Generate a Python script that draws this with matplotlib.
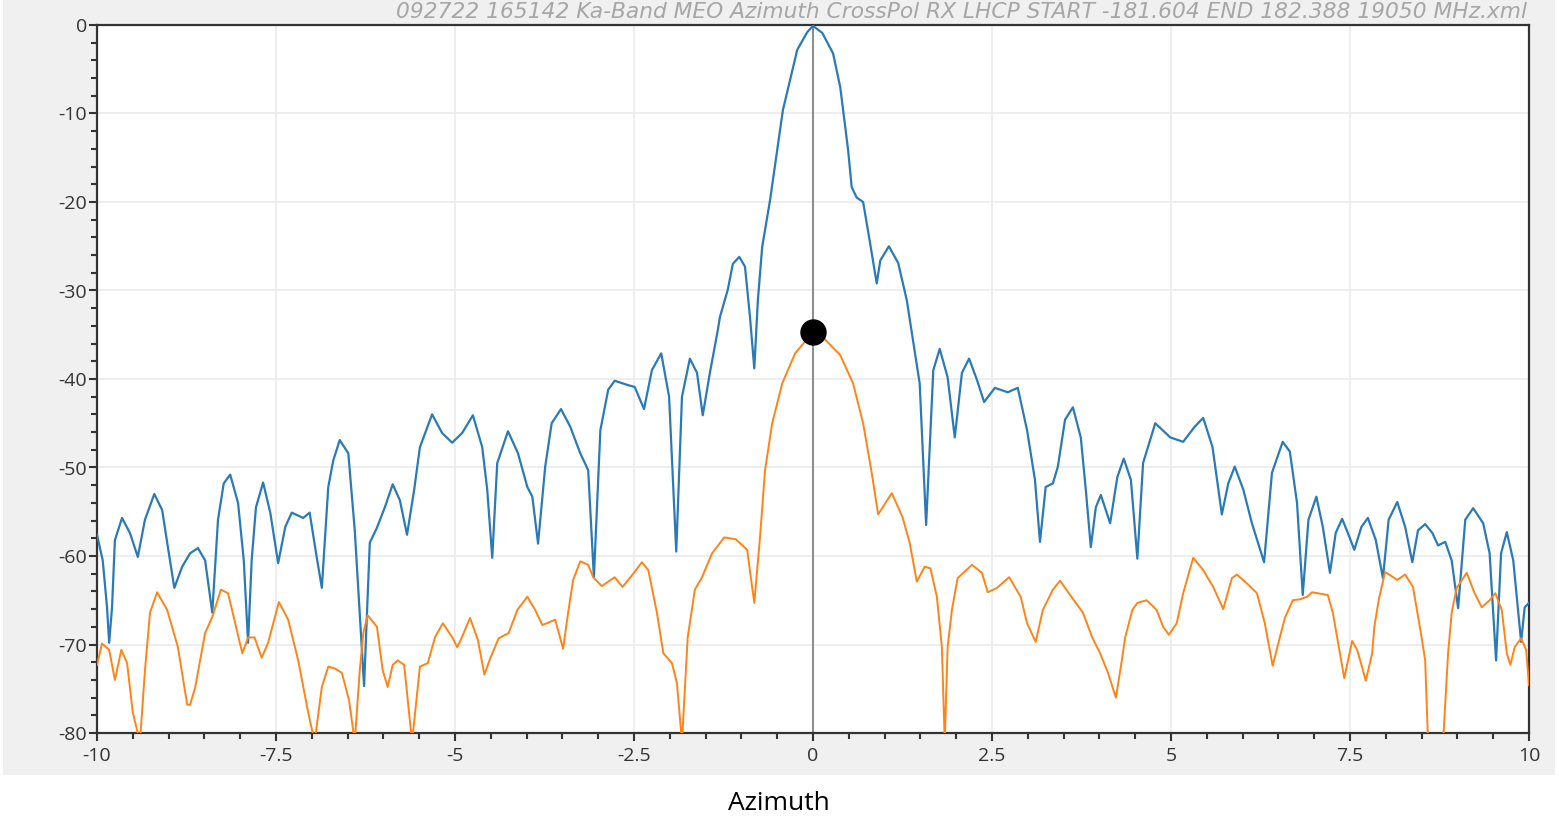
import matplotlib
matplotlib.use("Agg")
import matplotlib.pyplot as plt
from matplotlib.patches import Rectangle
from matplotlib.ticker import MultipleLocator

plt.rcParams["axes.unicode_minus"] = False
plt.rcParams["font.family"] = ["Open Sans", "DejaVu Sans"]

title_text = "092722 165142 Ka-Band MEO Azimuth CrossPol RX LHCP START -181.604 END 182.388 19050 MHz.xml"
x_label = "Azimuth"

# Co-pol pattern (dB) vs azimuth (deg)
copol_az = [
    -10.00, -9.92, -9.86, -9.83, -9.79, -9.75, -9.65, -9.54, -9.43, -9.33,
    -9.20, -9.09, -9.01, -8.92, -8.81, -8.70, -8.59, -8.49, -8.39, -8.31,
    -8.23, -8.14, -8.03, -7.95, -7.89, -7.84, -7.78, -7.68, -7.58, -7.47,
    -7.37, -7.28, -7.12, -7.03, -6.94, -6.86, -6.77, -6.70, -6.61, -6.49,
    -6.40, -6.27, -6.19, -6.09, -5.98, -5.87, -5.77, -5.67, -5.57, -5.49,
    -5.32, -5.18, -5.04, -4.90, -4.75, -4.62, -4.55, -4.48, -4.41, -4.26,
    -4.12, -3.99, -3.92, -3.84, -3.74, -3.65, -3.52, -3.39, -3.25, -3.14,
    -3.06, -2.97, -2.86, -2.77, -2.58, -2.49, -2.36, -2.25, -2.12, -2.01,
    -1.91, -1.83, -1.72, -1.62, -1.54, -1.44, -1.33, -1.30, -1.19, -1.12,
    -1.03, -0.95, -0.88,
    -0.82, -0.77, -0.71, -0.60, -0.50, -0.42, -0.22, -0.08, 0.00, 0.13,
    0.28, 0.38, 0.42, 0.49, 0.54, 0.61,
    0.70, 0.79, 0.89, 0.94, 1.06, 1.19, 1.31, 1.49, 1.58, 1.68, 1.77,
    1.88, 1.98, 2.08, 2.18, 2.29, 2.39, 2.54, 2.72, 2.86, 2.99,
    3.10, 3.17, 3.25, 3.35, 3.42, 3.52, 3.63, 3.74, 3.81, 3.88,
    3.95, 4.02, 4.15, 4.25, 4.34, 4.44, 4.53, 4.61, 4.78, 4.99,
    5.17, 5.33, 5.45, 5.58, 5.71, 5.80, 5.89, 6.01, 6.13, 6.30,
    6.41, 6.56, 6.66, 6.76, 6.84, 6.92, 7.03, 7.12, 7.22, 7.30,
    7.39, 7.47, 7.56, 7.66, 7.75, 7.86, 7.96, 8.04, 8.16, 8.27,
    8.37, 8.45, 8.55, 8.65, 8.73, 8.83, 8.92, 9.01, 9.11, 9.22,
    9.36, 9.45, 9.54, 9.61, 9.69, 9.78, 9.89, 9.94, 10.00,
]
copol_db = [
    -57.6, -60.5, -65.8, -69.8, -65.8, -58.2, -55.7, -57.4, -60.1, -55.9,
    -53.0, -54.8, -59.0, -63.6, -61.2, -59.7, -59.1, -60.5, -66.4, -55.9,
    -51.8, -50.8, -54.0, -60.5, -69.8, -60.5, -54.5, -51.7, -55.1, -60.8,
    -56.7, -55.1, -55.7, -55.1, -59.7, -63.6, -52.2, -49.2, -46.9, -48.4,
    -57.1, -74.7, -58.5, -56.8, -54.5, -51.9, -53.7, -57.6, -52.5, -47.7,
    -44.0, -46.1, -47.2, -46.1, -44.1, -47.7, -52.5, -60.2, -49.5, -45.9,
    -48.4, -52.2, -53.3, -58.6, -49.9, -45.0, -43.4, -45.4, -48.4, -50.3,
    -62.4, -45.8, -41.2, -40.2, -40.7, -40.9, -43.4, -39.0, -37.1, -42.0,
    -59.5, -42.0, -37.7, -39.3, -44.1, -39.3, -34.5, -33.0, -29.9, -27.0,
    -26.2, -27.3, -33.0,
    -38.8, -31.1, -25.1, -19.8, -14.1, -9.6, -2.8, -0.8, -0.1, -0.9,
    -3.2, -7.0, -9.6, -14.1, -18.3, -19.5,
    -20.0, -24.3, -29.2, -26.6, -25.0, -26.9, -31.1, -40.5, -56.5, -39.0, -36.6,
    -39.8, -46.6, -39.3, -37.7, -40.1, -42.6, -41.0, -41.5, -41.0, -45.8,
    -51.4, -58.4, -52.2, -51.8, -49.9, -44.6, -43.2, -46.6, -52.5, -59.0,
    -54.5, -53.1, -56.3, -51.1, -49.0, -51.4, -60.3, -49.5, -45.0, -46.6,
    -47.1, -45.4, -44.4, -47.7, -55.3, -51.8, -49.9, -52.5, -56.3, -60.7,
    -50.6, -47.1, -48.2, -54.0, -64.4, -55.9, -53.3, -56.7, -61.9, -57.4,
    -55.8, -57.4, -59.3, -56.7, -55.7, -58.2, -62.5, -55.9, -53.9, -56.7,
    -60.7, -57.1, -56.4, -57.4, -58.8, -58.4, -60.5, -65.9, -55.9, -54.6,
    -56.3, -59.7, -71.8, -59.7, -57.3, -60.5, -69.7, -65.8, -65.3,
]

# Cross-pol pattern (dB) vs azimuth (deg)
xpol_az = [
    -10.00, -9.93, -9.83, -9.75, -9.66, -9.58, -9.50, -9.40, -9.33, -9.26,
    -9.16, -9.02, -8.87, -8.74, -8.70, -8.63, -8.49, -8.39, -8.27, -8.17,
    -7.97, -7.89, -7.80, -7.70, -7.61, -7.46, -7.33, -7.19, -7.05, -6.96,
    -6.86, -6.77, -6.68, -6.58, -6.48, -6.40, -6.33, -6.28, -6.22, -6.09,
    -6.01, -5.94, -5.87, -5.80, -5.71, -5.60, -5.49, -5.38, -5.28, -5.17,
    -5.03, -4.97, -4.92, -4.79, -4.68, -4.59, -4.50, -4.39, -4.25, -4.13,
    -3.99, -3.88, -3.78, -3.60, -3.49, -3.42, -3.35, -3.25, -3.14, -3.07,
    -2.95, -2.77, -2.66, -2.52, -2.39, -2.30, -2.18, -2.09, -1.97, -1.90,
    -1.83, -1.75, -1.65, -1.55, -1.41, -1.24, -1.08, -0.92, -0.82, -0.74,
    -0.67, -0.57, -0.43, -0.25, 0.00, 0.14, 0.38, 0.56, 0.70, 0.82,
    0.91, 1.10, 1.25, 1.35, 1.45, 1.56, 1.64, 1.73, 1.80, 1.84,
    1.88, 1.94, 2.02, 2.22, 2.36, 2.44, 2.57, 2.74, 2.90, 2.99,
    3.11, 3.21, 3.35, 3.45, 3.59, 3.77, 3.90, 4.01, 4.12, 4.23,
    4.30, 4.36, 4.46, 4.53, 4.66, 4.80, 4.89, 4.97, 5.08, 5.17,
    5.31, 5.45, 5.59, 5.73, 5.85, 5.92, 6.06, 6.20, 6.31, 6.42,
    6.51, 6.59, 6.70, 6.80, 6.90, 6.97, 7.19, 7.26, 7.36, 7.42,
    7.53, 7.60, 7.65, 7.72, 7.81, 7.84, 7.90, 7.99, 8.16, 8.27,
    8.38, 8.50, 8.55, 8.59, 8.80, 8.87, 8.92, 8.99, 9.13, 9.24,
    9.34, 9.45, 9.53, 9.62, 9.69, 9.74, 9.80, 9.89, 9.96, 9.99,
    10.00,
]
xpol_db = [
    -72.3, -69.9, -70.6, -74.0, -70.6, -72.1, -77.7, -81.0, -72.9, -66.4,
    -64.1, -66.1, -70.3, -76.8, -76.8, -74.9, -68.7, -66.9, -63.8, -64.2,
    -71.0, -69.2, -69.2, -71.5, -69.8, -65.2, -67.2, -71.8, -77.7, -81.0,
    -74.8, -72.5, -72.7, -73.2, -76.3, -81.0, -72.9, -68.7, -66.7, -68.0,
    -72.9, -74.8, -72.3, -71.8, -72.3, -81.0, -72.5, -72.1, -69.2, -67.6,
    -69.3, -70.3, -69.5, -67.0, -69.5, -73.4, -71.4, -69.3, -68.7, -66.1,
    -64.6, -66.1, -67.8, -67.2, -70.5, -66.4, -62.7, -60.6, -61.0, -62.4,
    -63.4, -62.4, -63.5, -62.1, -60.7, -61.6, -66.4, -71.0, -72.1, -74.4,
    -81.0, -69.2, -63.8, -62.4, -59.7, -57.9, -58.1, -59.3, -65.3, -57.9,
    -50.3, -45.0, -40.5, -37.1, -34.7, -35.3, -37.3, -40.5, -45.0, -50.6,
    -55.3, -52.9, -55.6, -58.5, -62.9, -61.2, -61.4, -64.6, -70.3, -81.0,
    -70.3, -66.1, -62.5, -61.0, -61.9, -64.1, -63.6, -62.4, -64.6, -67.6,
    -69.7, -66.1, -63.8, -62.8, -64.4, -66.4, -69.2, -71.0, -73.2, -76.0,
    -72.5, -69.2, -66.1, -65.3, -65.0, -66.1, -68.0, -68.9, -67.6, -64.2,
    -60.2, -61.6, -63.5, -66.0, -62.5, -62.1, -63.1, -64.2, -67.6, -72.4,
    -69.5, -67.0, -65.0, -64.9, -64.6, -64.1, -64.4, -66.4, -71.0, -73.8,
    -69.6, -70.6, -72.0, -74.1, -71.0, -68.0, -65.0, -61.8, -62.7, -62.1,
    -63.5, -69.2, -71.8, -81.0, -81.0, -71.0, -66.4, -63.6, -61.9, -64.2,
    -65.8, -65.0, -64.2, -66.1, -71.0, -72.3, -70.3, -69.3, -70.6, -73.7,
    -74.6,
]

# Cursor on the cross-pol boresight value
cursor_az = 0.0
cursor_db = -34.7

x_ticks = [-10, -7.5, -5, -2.5, 0, 2.5, 5, 7.5, 10]
x_tick_labels = ["-10", "-7.5", "-5", "-2.5", "0", "2.5", "5", "7.5", "10"]
y_ticks = [0, -10, -20, -30, -40, -50, -60, -70, -80]
y_tick_labels = ["0", "-10", "-20", "-30", "-40", "-50", "-60", "-70", "-80"]

W, H = 1559, 821
fig = plt.figure(figsize=(W / 100, H / 100), dpi=100, facecolor="white")

# grey panel behind the plot
panel = Rectangle((3 / W, 1 - 775 / H), 1552 / W, 775 / H,
                  transform=fig.transFigure, facecolor="#f0f0f0",
                  edgecolor="none", zorder=-10)
fig.patches.append(panel)

ax = fig.add_axes([97 / W, 1 - 733 / H, (1529 - 97) / W, (733 - 25) / H])
ax.set_zorder(5)
ax.set_facecolor("white")

ax.plot(copol_az, copol_db, color="#2a7ab8", lw=1.6, zorder=3,
        solid_joinstyle="round")
ax.plot(xpol_az, xpol_db, color="#ff8418", lw=1.4, zorder=3,
        solid_joinstyle="round")
ax.axvline(0, color="#7a7a7a", lw=1.2, zorder=2)
ax.plot([cursor_az], [cursor_db], "o", color="black", markersize=18, zorder=5)

ax.set_xlim(-10, 10)
ax.set_ylim(-80, 0)
ax.set_xticks(x_ticks)
ax.set_xticklabels(x_tick_labels)
ax.set_yticks(y_ticks)
ax.set_yticklabels(y_tick_labels)
ax.xaxis.set_minor_locator(MultipleLocator(0.5))
ax.yaxis.set_minor_locator(MultipleLocator(2))
ax.grid(True, which="major", color="#ebebeb", lw=1.2, zorder=0)
ax.set_axisbelow(True)

for s in ax.spines.values():
    s.set_color("#333333")
    s.set_linewidth(1.6)

ax.tick_params(which="major", direction="out", length=6, width=1.5,
               color="#333333", labelsize=14, labelcolor="#333333")
ax.tick_params(which="minor", direction="out", length=4, width=1.5,
               color="#333333")
ax.tick_params(axis="x", which="major", pad=4)
ax.tick_params(axis="y", which="major", pad=1)

fig.text(1527 / W, 1 - 12 / H, title_text, ha="right", va="center",
         fontsize=15.7, style="italic", color="#a6a6a6", family="DejaVu Sans")
fig.text(779 / W, 1 - 803 / H, x_label, ha="center", va="center",
         fontsize=19, color="black")

fig.savefig("out.png", dpi=100, facecolor=fig.get_facecolor())
